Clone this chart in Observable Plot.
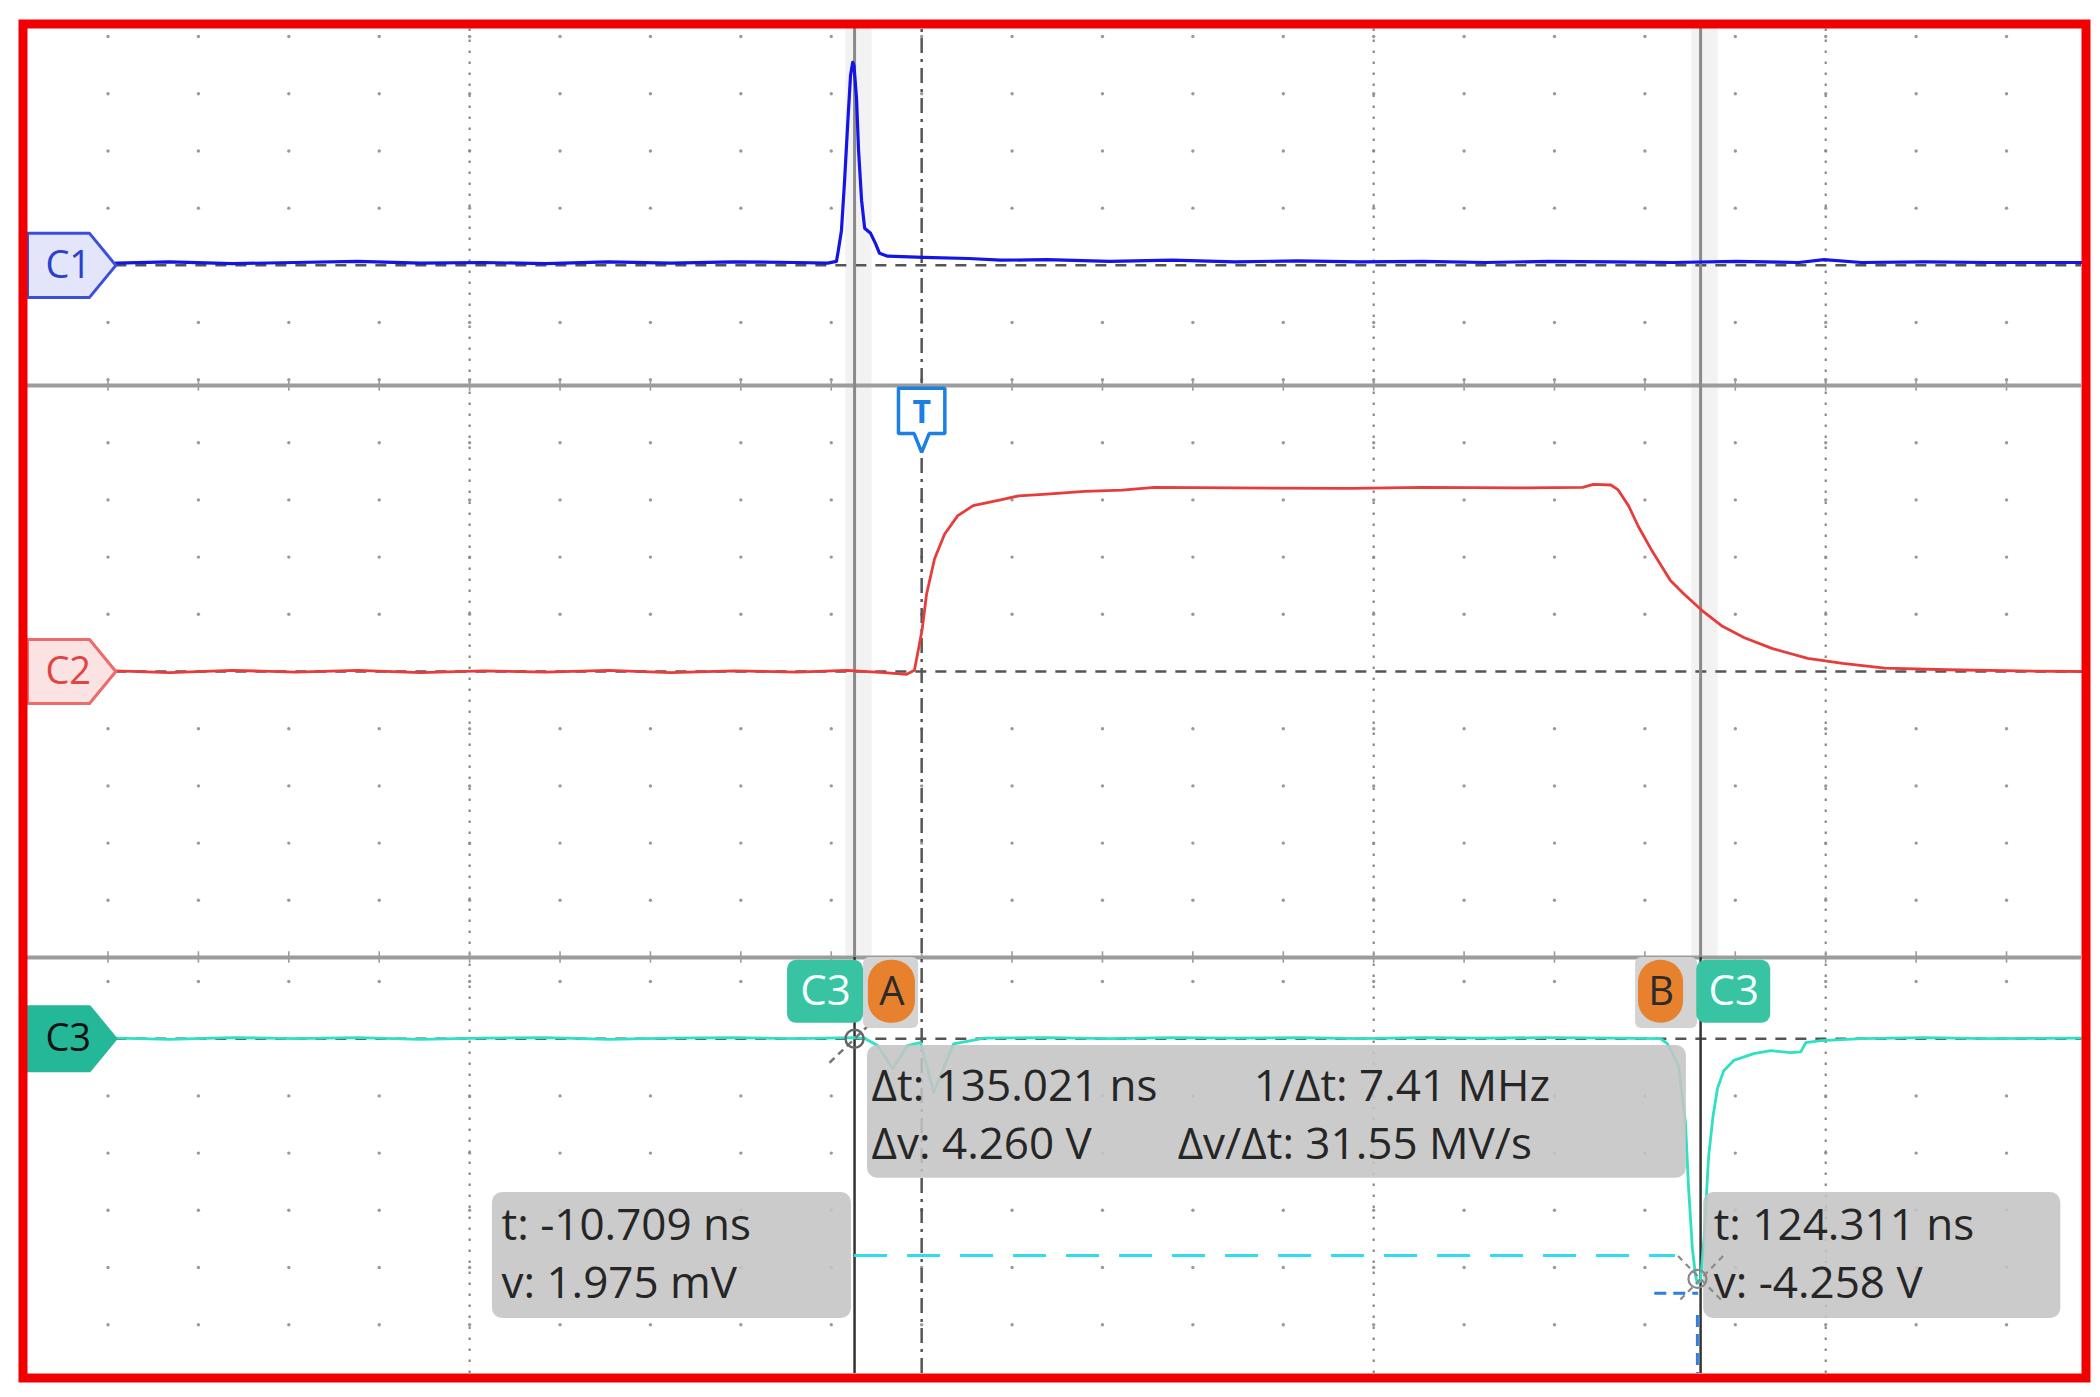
<!DOCTYPE html>
<html>
<head>
<meta charset="utf-8">
<script src="https://cdn.jsdelivr.net/npm/d3@7"></script>
<script src="https://cdn.jsdelivr.net/npm/@observablehq/plot@0.6"></script>
<style>
  body { margin: 0; background: #ffffff; }
  #chart svg { display: block; }
</style>
</head>
<body>
<div id="chart"></div>
<script>
// ---------------- DATA ----------------
// Cursor times (ns) read from the readouts
const cursorTimes = [-10.709, 124.311];
const cursorNames = ["A", "B"];

// Channel names
const channels = ["C1", "C2", "C3"];

// C1 trace: [time ns, divisions above C1 reference]
const c1Trace = [
  [-128.6,0.04],[-120,0.06],[-110,0.03],[-100,0.05],[-90,0.07],[-80,0.04],[-70,0.05],[-60,0.03],
  [-50,0.06],[-40,0.04],[-30,0.06],[-20,0.05],[-15,0.04],[-13.6,0.07],[-13.3,0.26],[-12.8,0.61],
  [-12.3,1.48],[-11.8,2.48],[-11.35,3.32],[-11.0,3.55],[-10.8,3.49],[-10.55,3.14],[-10.4,2.93],
  [-10.07,2.01],[-9.59,1.14],[-9.1,0.65],[-8.15,0.56],[-7.36,0.38],[-6.72,0.21],[-5.44,0.16],
  [0.3,0.14],[7.5,0.12],[12.6,0.09],[20,0.10],[30,0.07],[40,0.09],[50,0.06],[60,0.08],[70,0.06],
  [80,0.07],[90,0.05],[100,0.07],[110,0.06],[120,0.05],[130,0.07],[140,0.05],[144,0.10],[150,0.05],
  [160,0.06],[170,0.05],[185.1,0.05]
];

// C2 trace: [time ns, divisions above C2 reference]
const c2Trace = [
  [-128.6,0.01],[-120,-0.02],[-110,0.02],[-100,-0.01],[-90,0.02],[-80,-0.02],[-70,0.01],[-60,-0.01],
  [-50,0.02],[-40,-0.02],[-30,0.01],[-20,-0.01],[-12,0.02],[-6,-0.02],[-2.4,-0.05],[-1.15,0.02],
  [0.06,0.72],[0.78,1.35],[2.06,1.97],[3.65,2.40],[5.73,2.72],[8.22,2.90],[12.59,3.00],[15.46,3.07],
  [20,3.10],[25.99,3.15],[32,3.17],[37.16,3.22],[50,3.21],[68.6,3.20],[80,3.22],[95,3.21],[105.5,3.22],
  [107.2,3.27],[110.0,3.26],[111.1,3.18],[112.8,2.90],[114.4,2.53],[116.6,2.10],[119.5,1.59],
  [121.7,1.35],[124.5,1.07],[127.8,0.79],[131.3,0.59],[135.8,0.40],[141.4,0.23],[147.0,0.14],
  [153.7,0.06],[163.7,0.03],[175,0.01],[185.1,0.0]
];

// C3 trace: [time ns, volts] (1 V/div)
const c3Trace = [
  [-128.6,0.01],[-120,-0.01],[-110,0.02],[-100,0.0],[-90,0.02],[-80,-0.01],[-70,0.01],[-60,0.02],
  [-50,-0.01],[-40,0.01],[-30,0.02],[-20,0.0],[-10.7,0.02],[-9,0.0],[-7.04,-0.12],[-4.65,-0.52],
  [-2.25,-0.12],[-0.18,-0.07],[1.9,-0.94],[5.09,-0.09],[10,0.01],[20,0.02],[30,0.0],[40,0.02],
  [50,0.01],[60,0.02],[70,0.0],[80,0.02],[90,0.01],[100,0.02],[110,0.01],[117.93,0.0],[119.04,-0.09],
  [120.8,-0.47],[121.9,-1.47],[122.4,-2.62],[123.0,-3.67],[123.5,-4.14],[123.8,-4.28],[124.3,-4.23],
  [124.9,-3.44],[125.3,-2.62],[125.6,-2.05],[126.3,-1.35],[127.0,-0.87],[128.0,-0.56],[129.6,-0.38],
  [132.8,-0.26],[135.5,-0.21],[138.7,-0.245],[140.3,-0.23],[141.1,-0.07],[143.5,-0.035],[150,0.0],
  [160,0.02],[170,0.0],[185.1,0.01]
];
const c3CursorLevel = -3.79; // V, cyan horizontal cursor level

// Readout texts
const deltaReadouts = ["Δt: 135.021 ns", "1/Δt: 7.41 MHz", "Δv: 4.260 V", "Δv/Δt: 31.55 MV/s"];
const cursorAReadouts = ["t: -10.709 ns", "v: 1.975 mV"];
const cursorBReadouts = ["t: 124.311 ns", "v: -4.258 V"];

// ---------------- LAYOUT (screen divisions / ns) ----------------
const tLeft = -142.7, tRight = 185.1;
const yTop = 11.241, yBot = -12.273;
const dividers = [5, -5];
const refs = [7.1, 0, -6.42];          // channel reference levels (div)
const [c1Ref, c2Ref, c3Ref] = refs;
const minorStep = 14.428;              // ns between graticule dot columns
const majorCols = [-72.14, 72.14, 144.28];
const gridCols = d3.range(-9, 13).map(k => k * minorStep);
const rows = [
  ...[-2, -1, 1, 2, 3, 4].map(k => c1Ref + k),
  ...[-4, -3, -2, -1, 1, 2, 3, 4],
  ...[1, -1, -2, -3, -4, -5].map(k => c3Ref + k)
];
const gridDots = [];
for (const t of gridCols) for (const v of rows) gridDots.push({t, v});
const dividerTicks = [];
for (const t of gridCols) for (const v of dividers) dividerTicks.push({t, v});

const F = "'Open Sans', 'Noto Sans', sans-serif";
const [A, B] = cursorTimes;

function markerPath(ref) {
  return [[tLeft, ref + 0.56], [-132.8, ref + 0.56], [-128.6, ref], [-132.8, ref - 0.56],
          [tLeft, ref - 0.56], [tLeft, ref + 0.56]];
}
const trigPath = [[-3.7, 4.95], [3.7, 4.95], [3.7, 4.16], [1.2, 4.16], [0, 3.83], [-1.2, 4.16],
                  [-3.7, 4.16], [-3.7, 4.95]];

const boxes = [
  {x1: -8.65, x2: 122.05, y1: -6.54, y2: -8.86},
  {x1: -68.5, x2: -11.2, y1: -9.11, y2: -11.31},
  {x1: 124.8, x2: 181.8, y1: -9.11, y2: -11.31}
];
const texts = [
  {t: -8.0, v: -7.255, s: deltaReadouts[0]},
  {t: 52.98, v: -7.255, s: deltaReadouts[1]},
  {t: -8.0, v: -8.27, s: deltaReadouts[2]},
  {t: 40.85, v: -8.27, s: deltaReadouts[3]},
  {t: -67.06, v: -9.70, s: cursorAReadouts[0]},
  {t: -67.06, v: -10.71, s: cursorAReadouts[1]},
  {t: 126.4, v: -9.70, s: cursorBReadouts[0]},
  {t: 126.4, v: -10.71, s: cursorBReadouts[1]}
];
const handles = [
  {x1: A + 1.44, x2: A + 10.22, y1: -5.0, y2: -6.24},
  {x1: B - 10.37, x2: B - 0.48, y1: -5.0, y2: -6.24}
];
const pills = [
  {x1: A + 2.21, x2: A + 9.72, y1: -5.05, y2: -6.15, s: cursorNames[0]},
  {x1: B - 9.91, x2: B - 2.71, y1: -5.05, y2: -6.15, s: cursorNames[1]}
];
const c3Tags = [
  {x1: A - 10.69, x2: A + 1.44, y1: -5.05, y2: -6.15, s: channels[2]},
  {x1: B - 0.61, x2: B + 11.19, y1: -5.05, y2: -6.15, s: channels[2]}
];
const mid = d => (d.x1 + d.x2) / 2;
const vmid = d => (d.y1 + d.y2) / 2;

const markerStyles = [
  {fill: "#e3e6fa", stroke: "#3b4fdc", text: "#2b3fd0"},
  {fill: "#fbe3e3", stroke: "#ef6a6a", text: "#e04444"},
  {fill: "#24b899", stroke: "#24b899", text: "#111111"}
];

const marks = [
  // light bands beside cursors
  Plot.rect(cursorTimes, {x1: d => d - 1.4, x2: d => d + 2.8, y1: -5, y2: yTop, fill: "#f2f2f2"}),
  // graticule dots
  Plot.dot(gridDots, {x: "t", y: "v", r: 1.7, fill: "#9a9a9a"}),
  // major dotted verticals
  Plot.ruleX(majorCols, {y1: yBot, y2: yTop, stroke: "#8a8a8a", strokeWidth: 2.2, strokeDasharray: "2.5,8.5"}),
  // panel dividers
  Plot.ruleY(dividers, {stroke: "#9c9c9c", strokeWidth: 4}),
  Plot.ruleX(dividerTicks, {x: "t", y1: d => d.v - 0.1, y2: d => d.v + 0.1, stroke: "#9c9c9c", strokeWidth: 1.6}),
  // channel reference lines
  Plot.ruleY(refs, {x1: -128.6, x2: tRight, stroke: "#555", strokeWidth: 2.5, strokeDasharray: "11,9"}),
  // cursor lines
  Plot.ruleX(cursorTimes, {y1: -5, y2: yTop, stroke: "#8a8a8a", strokeWidth: 3}),
  Plot.ruleX(cursorTimes, {y1: yBot, y2: -5, stroke: "#333", strokeWidth: 2.5}),
  // trigger line
  Plot.ruleX([0], {y1: yBot, y2: yTop, stroke: "#555", strokeWidth: 2.5, strokeDasharray: "15,6,3,6"}),
  // traces
  Plot.line(c1Trace, {x: d => d[0], y: d => c1Ref + d[1], stroke: "#1414e6", strokeWidth: 3.2}),
  Plot.line(c2Trace, {x: d => d[0], y: d => c2Ref + d[1], stroke: "#e63c3c", strokeWidth: 2.8}),
  Plot.line(c3Trace, {x: d => d[0], y: d => c3Ref + d[1], stroke: "#2fe0c2", strokeWidth: 2.8}),
  // cursor level lines
  Plot.ruleY([c3Ref + c3CursorLevel], {x1: A, x2: 120.3, stroke: "#30dcf0", strokeWidth: 3, strokeDasharray: "33,20"}),
  Plot.ruleY([c3Ref - 4.45], {x1: 117.0, x2: 124.0, stroke: "#2f7fe0", strokeWidth: 3, strokeDasharray: "12,7"}),
  Plot.ruleX([123.8], {y1: -11.26, y2: yBot, stroke: "#2f7fe0", strokeWidth: 3, strokeDasharray: "12,7"}),
  // readout boxes
  Plot.rect(boxes, {x1: "x1", x2: "x2", y1: "y1", y2: "y2", fill: "#c4c4c4", fillOpacity: 0.88, rx: 10}),
  // crosshairs
  Plot.link([{a: A - 4, b: c3Ref - 0.42, c: A + 4, d: c3Ref + 0.42}], {x1: "a", y1: "b", x2: "c", y2: "d", stroke: "#777", strokeWidth: 2.5, strokeDasharray: "7,5"}),
  Plot.dot([{t: A, v: c3Ref}], {x: "t", y: "v", r: 9, stroke: "#666", strokeWidth: 2.5, fill: "none"}),
  Plot.link([{a: B - 3.6, b: c3Ref - 3.8, c: B + 3.6, d: c3Ref - 4.6}, {a: B + 3.6, b: c3Ref - 3.8, c: B - 3.6, d: c3Ref - 4.6}], {x1: "a", y1: "b", x2: "c", y2: "d", stroke: "#8a8a8a", strokeWidth: 2.2, strokeDasharray: "6,5"}),
  Plot.dot([{t: B - 0.5, v: c3Ref - 4.2}], {x: "t", y: "v", r: 9, stroke: "#888", strokeWidth: 2.2, fill: "none"}),
  // readout texts
  Plot.text(texts, {x: "t", y: "v", text: "s", textAnchor: "start", fontSize: 44, fill: "#262626", fontFamily: F}),
  // cursor handles
  Plot.rect(handles, {x1: "x1", x2: "x2", y1: "y1", y2: "y2", fill: "#d3d3d3", rx: 6}),
  Plot.rect(pills, {x1: "x1", x2: "x2", y1: "y1", y2: "y2", fill: "#e8812d", rx: 22}),
  Plot.text(pills, {x: mid, y: vmid, text: "s", fontSize: 40, fill: "#2b2b2b", fontFamily: F}),
  Plot.rect(c3Tags, {x1: "x1", x2: "x2", y1: "y1", y2: "y2", fill: "#38c3a3", rx: 9}),
  Plot.text(c3Tags, {x: mid, y: vmid, text: "s", fontSize: 42, fill: "#f4fffb", fontFamily: F}),
  // channel markers
  ...refs.map((r, i) => Plot.line(markerPath(r), {x: d => d[0], y: d => d[1], fill: markerStyles[i].fill, stroke: markerStyles[i].stroke, strokeWidth: 3, strokeLinejoin: "round"})),
  ...refs.map((r, i) => Plot.text([{t: -136.2, v: r, s: channels[i]}], {x: "t", y: "v", text: "s", fontSize: 38, fill: markerStyles[i].text, fontFamily: F})),
  // trigger marker
  Plot.line(trigPath, {x: d => d[0], y: d => d[1], fill: "white", stroke: "#1c7fe2", strokeWidth: 3.5, strokeLinejoin: "miter"}),
  Plot.text([{t: 0, v: 4.53, s: "T"}], {x: "t", y: "v", text: "s", fontSize: 32, fontWeight: "bold", fill: "#1c7fe2", fontFamily: F}),
  // red frame
  Plot.frame({stroke: "#f00000", strokeWidth: 9, inset: -4.5})
];

const chart = Plot.plot({
  width: 2100,
  height: 1397,
  marginLeft: 27,
  marginRight: 19,
  marginTop: 28,
  marginBottom: 24,
  x: {domain: [tLeft, tRight], axis: null},
  y: {domain: [yBot, yTop], axis: null},
  style: {background: "#ffffff", fontFamily: F},
  marks
});
document.getElementById("chart").appendChild(chart);
</script>
</body>
</html>
